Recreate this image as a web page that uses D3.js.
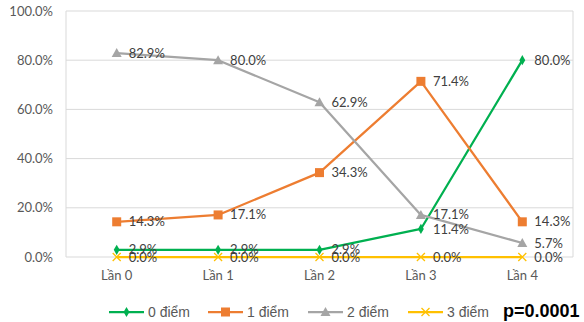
<!DOCTYPE html>
<html>
<head>
<meta charset="utf-8">
<script src="https://cdn.jsdelivr.net/npm/d3@7"></script>
<style>
  html, body { margin: 0; padding: 0; background: #fff; }
  svg { display: block; }
  text { font-family: Lato, "Open Sans", "Liberation Sans", sans-serif; }
</style>
</head>
<body>
<svg id="chart" width="584" height="322"></svg>
<script>
// Share of students by score, across attempts
const categories = ["Lần 0", "Lần 1", "Lần 2", "Lần 3", "Lần 4"];
const score0 = [2.9, 2.9, 2.9, 11.4, 80.0];
const score1 = [14.3, 17.1, 34.3, 71.4, 14.3];
const score2 = [82.9, 80.0, 62.9, 17.1, 5.7];
const score3 = [0.0, 0.0, 0.0, 0.0, 0.0];
const seriesNames = ["0 điểm", "1 điểm", "2 điểm", "3 điểm"];
const yTicks = [0, 20, 40, 60, 80, 100];
const pValueText = "p=0.0001";

const series = [
  { name: seriesNames[0], values: score0, color: "#00B050", marker: "diamond" },
  { name: seriesNames[1], values: score1, color: "#ED7D31", marker: "square" },
  { name: seriesNames[2], values: score2, color: "#A5A5A5", marker: "triangle" },
  { name: seriesNames[3], values: score3, color: "#FFC000", marker: "cross" }
];

const svg = d3.select("#chart");
const plot = { left: 66, right: 573, top: 11, bottom: 257 };

const x = d3.scaleBand().domain(categories).range([plot.left, plot.right]);
const y = d3.scaleLinear().domain([0, 100]).range([plot.bottom, plot.top]);
const cx = c => x(c) + x.bandwidth() / 2;
const fmt = v => v.toFixed(1) + "%";

// gridlines
svg.append("g")
  .selectAll("line").data(yTicks).join("line")
  .attr("x1", plot.left).attr("x2", plot.right)
  .attr("y1", d => y(d)).attr("y2", d => y(d))
  .attr("stroke", "#D9D9D9").attr("stroke-width", 1);

// plot area borders (left and right)
svg.append("line").attr("x1", plot.left).attr("x2", plot.left)
  .attr("y1", plot.top).attr("y2", plot.bottom)
  .attr("stroke", "#D9D9D9");
svg.append("line").attr("x1", plot.right).attr("x2", plot.right)
  .attr("y1", plot.top).attr("y2", plot.bottom)
  .attr("stroke", "#D9D9D9");

// y axis labels
const yAxis = d3.axisLeft(y).tickValues(yTicks).tickFormat(d => d.toFixed(1) + "%")
  .tickSize(0).tickPadding(13);
const yg = svg.append("g").attr("transform", `translate(${plot.left},0)`).call(yAxis);
yg.select(".domain").remove();
yg.selectAll("text").attr("fill", "#595959").style("font-size", "13px")
  .style("font-family", "Lato, 'Open Sans', sans-serif");

// x axis labels
const xAxis = d3.axisBottom(x).tickSize(0).tickPadding(14);
const xg = svg.append("g").attr("transform", `translate(0,${plot.bottom})`).call(xAxis);
xg.select(".domain").remove();
xg.selectAll("text").attr("fill", "#595959").style("font-size", "13px")
  .style("font-family", "Lato, 'Open Sans', sans-serif");

// marker drawing
function drawMarker(g, type, color, px, py) {
  if (type === "diamond") {
    g.append("path").attr("d", d3.symbol(d3.symbolDiamond, 30)())
      .attr("transform", `translate(${px},${py})`).attr("fill", color);
  } else if (type === "square") {
    g.append("rect").attr("x", px - 4.5).attr("y", py - 4.5)
      .attr("width", 9).attr("height", 9).attr("fill", color);
  } else if (type === "triangle") {
    g.append("path").attr("d", `M${px},${py - 5}L${px + 5},${py + 4}L${px - 5},${py + 4}Z`)
      .attr("fill", color);
  } else if (type === "cross") {
    g.append("path").attr("d", `M${px - 4},${py - 4}L${px + 4},${py + 4}M${px - 4},${py + 4}L${px + 4},${py - 4}`)
      .attr("stroke", color).attr("stroke-width", 1.3).attr("fill", "none");
  }
}

const line = d3.line().x((d, i) => cx(categories[i])).y(d => y(d));

series.forEach(s => {
  const g = svg.append("g");
  g.append("path").datum(s.values).attr("d", line)
    .attr("fill", "none").attr("stroke", s.color).attr("stroke-width", 2.25)
    .attr("stroke-linejoin", "round");
  s.values.forEach((v, i) => drawMarker(g, s.marker, s.color, cx(categories[i]), y(v)));
});

// data labels
series.forEach(s => {
  svg.append("g").selectAll("text").data(s.values).join("text")
    .attr("x", (d, i) => cx(categories[i]) + 12)
    .attr("y", d => y(d))
    .attr("dy", "0.35em")
    .attr("fill", "#404040")
    .style("font-size", "13px")
    .text(d => fmt(d));
});

// legend
const legendX = [109, 208, 308, 408];
const legendY = 312;
series.forEach((s, i) => {
  const g = svg.append("g");
  const lx = legendX[i];
  g.append("line").attr("x1", lx).attr("x2", lx + 35)
    .attr("y1", legendY).attr("y2", legendY)
    .attr("stroke", s.color).attr("stroke-width", 2.25);
  drawMarker(g, s.marker, s.color, lx + 17.5, legendY);
  g.append("text").attr("x", lx + 39).attr("y", 317)
    .attr("fill", "#595959").style("font-size", "14px")
    .style("font-family", "'Liberation Sans', Arial, sans-serif")
    .text(s.name);
});

svg.append("text").attr("x", 503).attr("y", 317)
  .attr("fill", "#000").style("font-size", "18px").style("font-weight", "bold")
  .style("font-family", "'Liberation Sans', Arial, sans-serif")
  .text(pValueText);
</script>
</body>
</html>
